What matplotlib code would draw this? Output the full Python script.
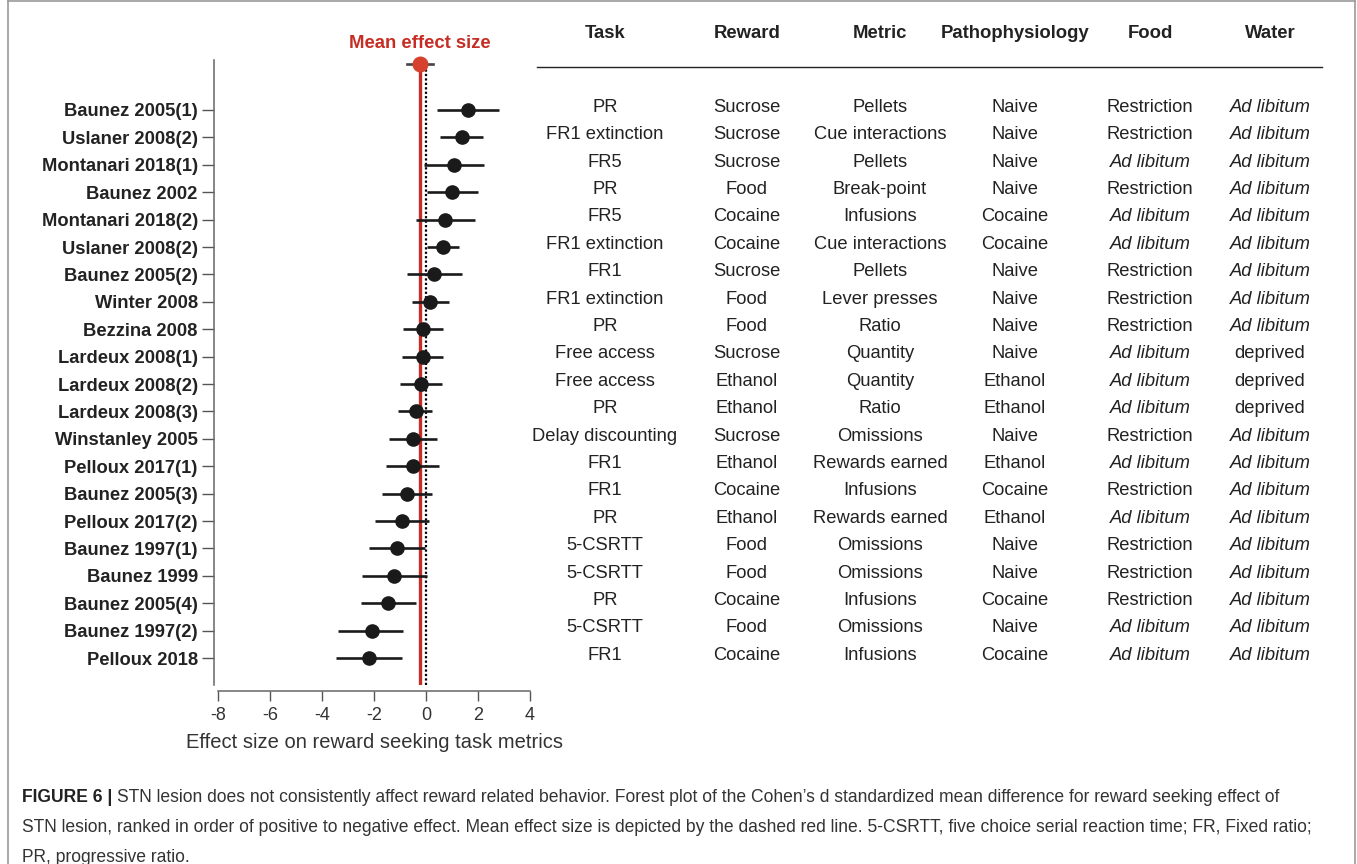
"""
Forest plot: effect of STN lesion on reward seeking, with study-detail table.
"""

import matplotlib
matplotlib.use("Agg")
import matplotlib.pyplot as plt
from matplotlib.lines import Line2D
from matplotlib.transforms import blended_transform_factory

W, H = 1357, 864

studies = ["Baunez 2005(1)", "Uslaner 2008(2)", "Montanari 2018(1)", "Baunez 2002",
           "Montanari 2018(2)", "Uslaner 2008(2)", "Baunez 2005(2)", "Winter 2008",
           "Bezzina 2008", "Lardeux 2008(1)", "Lardeux 2008(2)", "Lardeux 2008(3)",
           "Winstanley 2005", "Pelloux 2017(1)", "Baunez 2005(3)", "Pelloux 2017(2)",
           "Baunez 1997(1)", "Baunez 1999", "Baunez 2005(4)", "Baunez 1997(2)",
           "Pelloux 2018"]
effect = [1.63, 1.37, 1.07, 1.01, 0.73, 0.64, 0.32, 0.15, -0.13, -0.13, -0.19,
          -0.39, -0.49, -0.51, -0.72, -0.94, -1.13, -1.23, -1.45, -2.09, -2.19]
ci_low = [0.43, 0.54, -0.08, 0.02, -0.40, 0.02, -0.72, -0.55, -0.90, -0.94, -1.00,
          -1.07, -1.43, -1.52, -1.71, -1.96, -2.19, -2.48, -2.50, -3.38, -3.47]
ci_high = [2.82, 2.18, 2.23, 2.00, 1.88, 1.28, 1.37, 0.90, 0.64, 0.66, 0.63,
           0.24, 0.43, 0.51, 0.24, 0.12, -0.04, 0.02, -0.39, -0.88, -0.91]

mean_effect = -0.23
mean_ci = (-0.72, 0.28)

task = ["PR", "FR1 extinction", "FR5", "PR", "FR5", "FR1 extinction", "FR1",
        "FR1 extinction", "PR", "Free access", "Free access", "PR",
        "Delay discounting", "FR1", "FR1", "PR", "5-CSRTT", "5-CSRTT", "PR",
        "5-CSRTT", "FR1"]
reward = ["Sucrose", "Sucrose", "Sucrose", "Food", "Cocaine", "Cocaine", "Sucrose",
          "Food", "Food", "Sucrose", "Ethanol", "Ethanol", "Sucrose", "Ethanol",
          "Cocaine", "Ethanol", "Food", "Food", "Cocaine", "Food", "Cocaine"]
metric = ["Pellets", "Cue interactions", "Pellets", "Break-point", "Infusions",
          "Cue interactions", "Pellets", "Lever presses", "Ratio", "Quantity",
          "Quantity", "Ratio", "Omissions", "Rewards earned", "Infusions",
          "Rewards earned", "Omissions", "Omissions", "Infusions", "Omissions",
          "Infusions"]
patho = ["Naive", "Naive", "Naive", "Naive", "Cocaine", "Cocaine", "Naive", "Naive",
         "Naive", "Naive", "Ethanol", "Ethanol", "Naive", "Ethanol", "Cocaine",
         "Ethanol", "Naive", "Naive", "Cocaine", "Naive", "Cocaine"]
food = ["Restriction", "Restriction", "Ad libitum", "Restriction", "Ad libitum",
        "Ad libitum", "Restriction", "Restriction", "Restriction", "Ad libitum",
        "Ad libitum", "Ad libitum", "Restriction", "Ad libitum", "Restriction",
        "Ad libitum", "Restriction", "Restriction", "Restriction", "Ad libitum",
        "Ad libitum"]
water = ["Ad libitum", "Ad libitum", "Ad libitum", "Ad libitum", "Ad libitum",
         "Ad libitum", "Ad libitum", "Ad libitum", "Ad libitum", "deprived",
         "deprived", "deprived", "Ad libitum", "Ad libitum", "Ad libitum",
         "Ad libitum", "Ad libitum", "Ad libitum", "Ad libitum", "Ad libitum",
         "Ad libitum"]

headers = ["Task", "Reward", "Metric", "Pathophysiology", "Food", "Water"]
columns = [task, reward, metric, patho, food, water]
col_x_px = [605, 747, 880, 1015, 1150, 1270]

SANS = ["Liberation Sans", "DejaVu Sans"]
TXT = "#222222"
RED = "#c62d24"

plt.rcParams["font.family"] = SANS


def fx(px):
    return px / W


def fy(py):
    return 1 - py / H


fig = plt.figure(figsize=(W / 100, H / 100), dpi=100)

# forest axes: rows 1..N from y=110px with 27.4px step
top_px, bot_px = 60, 685
ax = fig.add_axes([fx(218), fy(bot_px), fx(530) - fx(218), (bot_px - top_px) / H])
step = 27.4
y_top = 1 + (top_px - 110) / step
y_bot = 1 + (bot_px - 110) / step
mean_y = 1 + (64 - 110) / step
rows = list(range(1, len(studies) + 1))

ax.set_xlim(-8, 4)
ax.set_ylim(y_bot, y_top)

ax.axvline(mean_effect, color=RED, lw=2.4, zorder=2)
ax.axvline(0, color="black", lw=1.6, ls=(0, (1, 1)), zorder=2)

for y, e, lo, hi in zip(rows, effect, ci_low, ci_high):
    ax.plot([lo, hi], [y, y], color="#1a1a1a", lw=1.9, zorder=3, solid_capstyle="butt")
    ax.plot(e, y, "o", color="#1a1a1a", ms=9.5, zorder=4)

ax.plot(list(mean_ci), [mean_y, mean_y], color="#444444", lw=1.9, zorder=3,
        clip_on=False)
ax.plot(mean_effect, mean_y, "o", color="#d6422e", ms=10.5, zorder=5, clip_on=False)

ax.text(fx(420), fy(44), "Mean effect size", transform=fig.transFigure,
        ha="center", va="center", color=RED, fontsize=13.3, fontweight="bold")

for side in ("top", "right"):
    ax.spines[side].set_visible(False)
ax.spines["left"].set_position(("outward", 3))
ax.spines["bottom"].set_position(("outward", 4))
for side in ("left", "bottom"):
    ax.spines[side].set_color("#666666")
    ax.spines[side].set_linewidth(1.1)

ax.set_yticks(rows)
ax.set_yticklabels(studies, fontsize=13.2, fontweight="bold", color=TXT)
ax.tick_params(axis="y", length=8.5, width=1.0, color="#555555", pad=3)
ax.set_xticks([-8, -6, -4, -2, 0, 2, 4])
ax.set_xticklabels(["-8", "-6", "-4", "-2", "0", "2", "4"], fontsize=13,
                   color="#333333")
ax.tick_params(axis="x", length=7, width=1.0, color="#555555", pad=5)
ax.set_xlabel("Effect size on reward seeking task metrics", fontsize=14.5,
              color="#333333", labelpad=6)

# study-detail table, rows share the forest y positions
tr = blended_transform_factory(fig.transFigure, ax.transData)
for name, vals, cx in zip(headers, columns, col_x_px):
    fig.text(fx(cx), fy(33), name, ha="center", va="center", fontsize=13.3,
             fontweight="bold", color=TXT)
    for y, v in zip(rows, vals):
        style = "italic" if v == "Ad libitum" else "normal"
        ax.text(fx(cx), y - 0.1, v, transform=tr, ha="center", va="center",
                fontsize=13.2, style=style, color=TXT, clip_on=False)

fig.add_artist(Line2D([fx(537), fx(1322)], [fy(67), fy(67)], color="#222222", lw=1.0))

# frame
frame = dict(color="#999999", lw=1.2)
fig.add_artist(Line2D([fx(8), fx(8)], [0, fy(1)], **frame))
fig.add_artist(Line2D([fx(8), fx(1355)], [fy(1), fy(1)], **frame))
fig.add_artist(Line2D([fx(1355), fx(1355)], [fy(1), 0], **frame))

# caption
cap_lines = [
    "STN lesion does not consistently affect reward related behavior. Forest plot of "
    "the Cohen\u2019s d standardized mean difference for reward seeking effect of",
    "STN lesion, ranked in order of positive to negative effect. Mean effect size is "
    "depicted by the dashed red line. 5-CSRTT, five choice serial reaction time; FR, "
    "Fixed ratio;",
    "PR, progressive ratio.",
]
t = fig.text(fx(22), fy(797), "FIGURE 6 | ", ha="left", va="center", fontsize=12.65,
             fontweight="bold", color=TXT)
fig.canvas.draw()
bb = t.get_window_extent()
fig.text(bb.x1 / W, fy(797), cap_lines[0], ha="left", va="center", fontsize=12.65,
         color="#333333")
fig.text(fx(22), fy(827), cap_lines[1], ha="left", va="center", fontsize=12.65,
         color="#333333")
fig.text(fx(22), fy(857), cap_lines[2], ha="left", va="center", fontsize=12.65,
         color="#333333")

fig.savefig("out.png", dpi=100)
